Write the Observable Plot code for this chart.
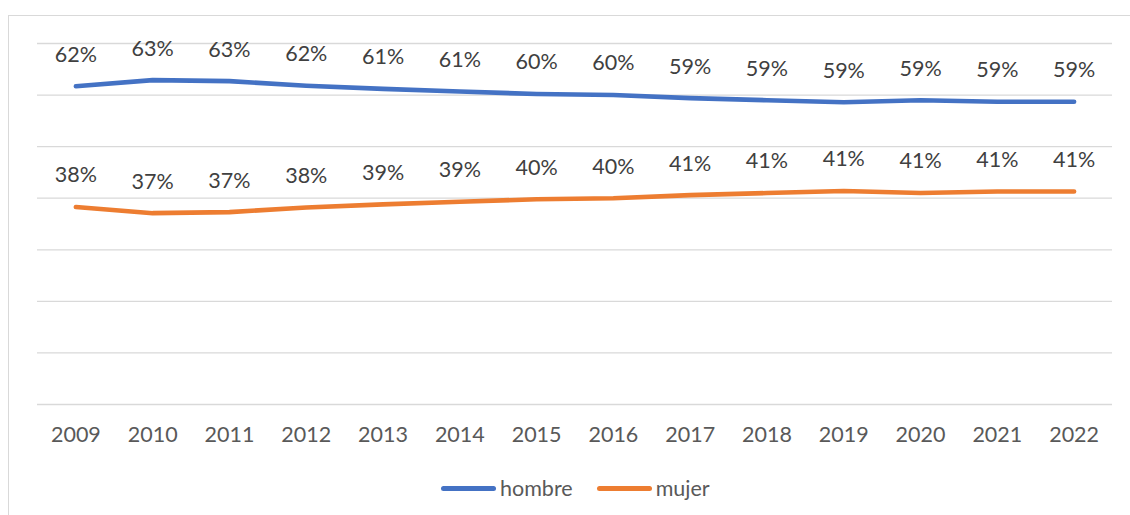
<!DOCTYPE html>
<html>
<head>
<meta charset="utf-8">
<script src="https://cdn.jsdelivr.net/npm/d3@7"></script>
<script src="https://cdn.jsdelivr.net/npm/@observablehq/plot@0.6"></script>
<style>
  html, body { margin: 0; padding: 0; background: #fff; }
  #wrap { position: relative; width: 1130px; height: 515px; overflow: hidden; font-family: Lato, "Open Sans", sans-serif; }
  #frame { position: absolute; left: 8px; top: 15px; width: 1200px; height: 600px; border-left: 1px solid #d9d9d9; border-top: 1px solid #d9d9d9; }
  #chart { position: absolute; left: 0; top: 0; }
  #legend { position: absolute; left: 441px; top: 475px; display: flex; align-items: center; font-size: 21.5px; color: #595959; }
  .sw { width: 55px; height: 5px; border-radius: 3px; margin-right: 4px; }
  .item { display: flex; align-items: center; margin-right: 24px; }
</style>
</head>
<body>
<div id="wrap">
  <div id="frame"></div>
  <div id="chart"></div>
  <div id="legend"></div>
</div>
<script>
const years = ["2009","2010","2011","2012","2013","2014","2015","2016","2017","2018","2019","2020","2021","2022"];
const hombre = [61.7, 62.9, 62.7, 61.8, 61.2, 60.7, 60.2, 60.0, 59.4, 59.0, 58.6, 59.0, 58.7, 58.7];
const mujer  = [38.3, 37.1, 37.3, 38.2, 38.8, 39.3, 39.8, 40.0, 40.6, 41.0, 41.4, 41.0, 41.3, 41.3];
const seriesNames = ["hombre", "mujer"];
const seriesColors = ["#4472C4", "#ED7D31"];
const yTicks = [0, 10, 20, 30, 40, 50, 60, 70];

const rows = [];
years.forEach((y, i) => {
  rows.push({year: y, value: hombre[i], serie: "hombre"});
  rows.push({year: y, value: mujer[i], serie: "mujer"});
});

const chart = Plot.plot({
  width: 1130,
  height: 460,
  marginLeft: 37,
  marginRight: 18,
  marginTop: 43,
  marginBottom: 56,
  style: { fontFamily: "Lato, 'Open Sans', sans-serif", fontSize: "21.5px", color: "#595959", background: "transparent" },
  x: { type: "point", domain: years, padding: 0.5, round: false, label: null, axis: null },
  y: { domain: [0, 70], label: null, axis: null },
  color: { domain: seriesNames, range: seriesColors },
  marks: [
    Plot.gridY(yTicks, { stroke: "#d9d9d9", strokeOpacity: 1, strokeWidth: 1.3 }),
    Plot.axisX({ tickSize: 0, tickPadding: 22.5, fontSize: 21.5, fill: "#595959" }),
    Plot.line(rows, { x: "year", y: "value", z: "serie", stroke: "serie", strokeWidth: 4.6, strokeLinecap: "round", strokeLinejoin: "round" }),
    Plot.text(rows, { x: "year", y: "value", text: d => Math.round(d.value) + "%", dy: -31.5, lineAnchor: "middle", fill: "#404040", fontSize: 21.5 })
  ]
});
document.getElementById("chart").appendChild(chart);

const legend = document.getElementById("legend");
seriesNames.forEach((n, i) => {
  const it = document.createElement("div");
  it.className = "item";
  const sw = document.createElement("div");
  sw.className = "sw";
  sw.style.background = seriesColors[i];
  const t = document.createElement("span");
  t.textContent = n;
  it.appendChild(sw); it.appendChild(t);
  legend.appendChild(it);
});
</script>
</body>
</html>
